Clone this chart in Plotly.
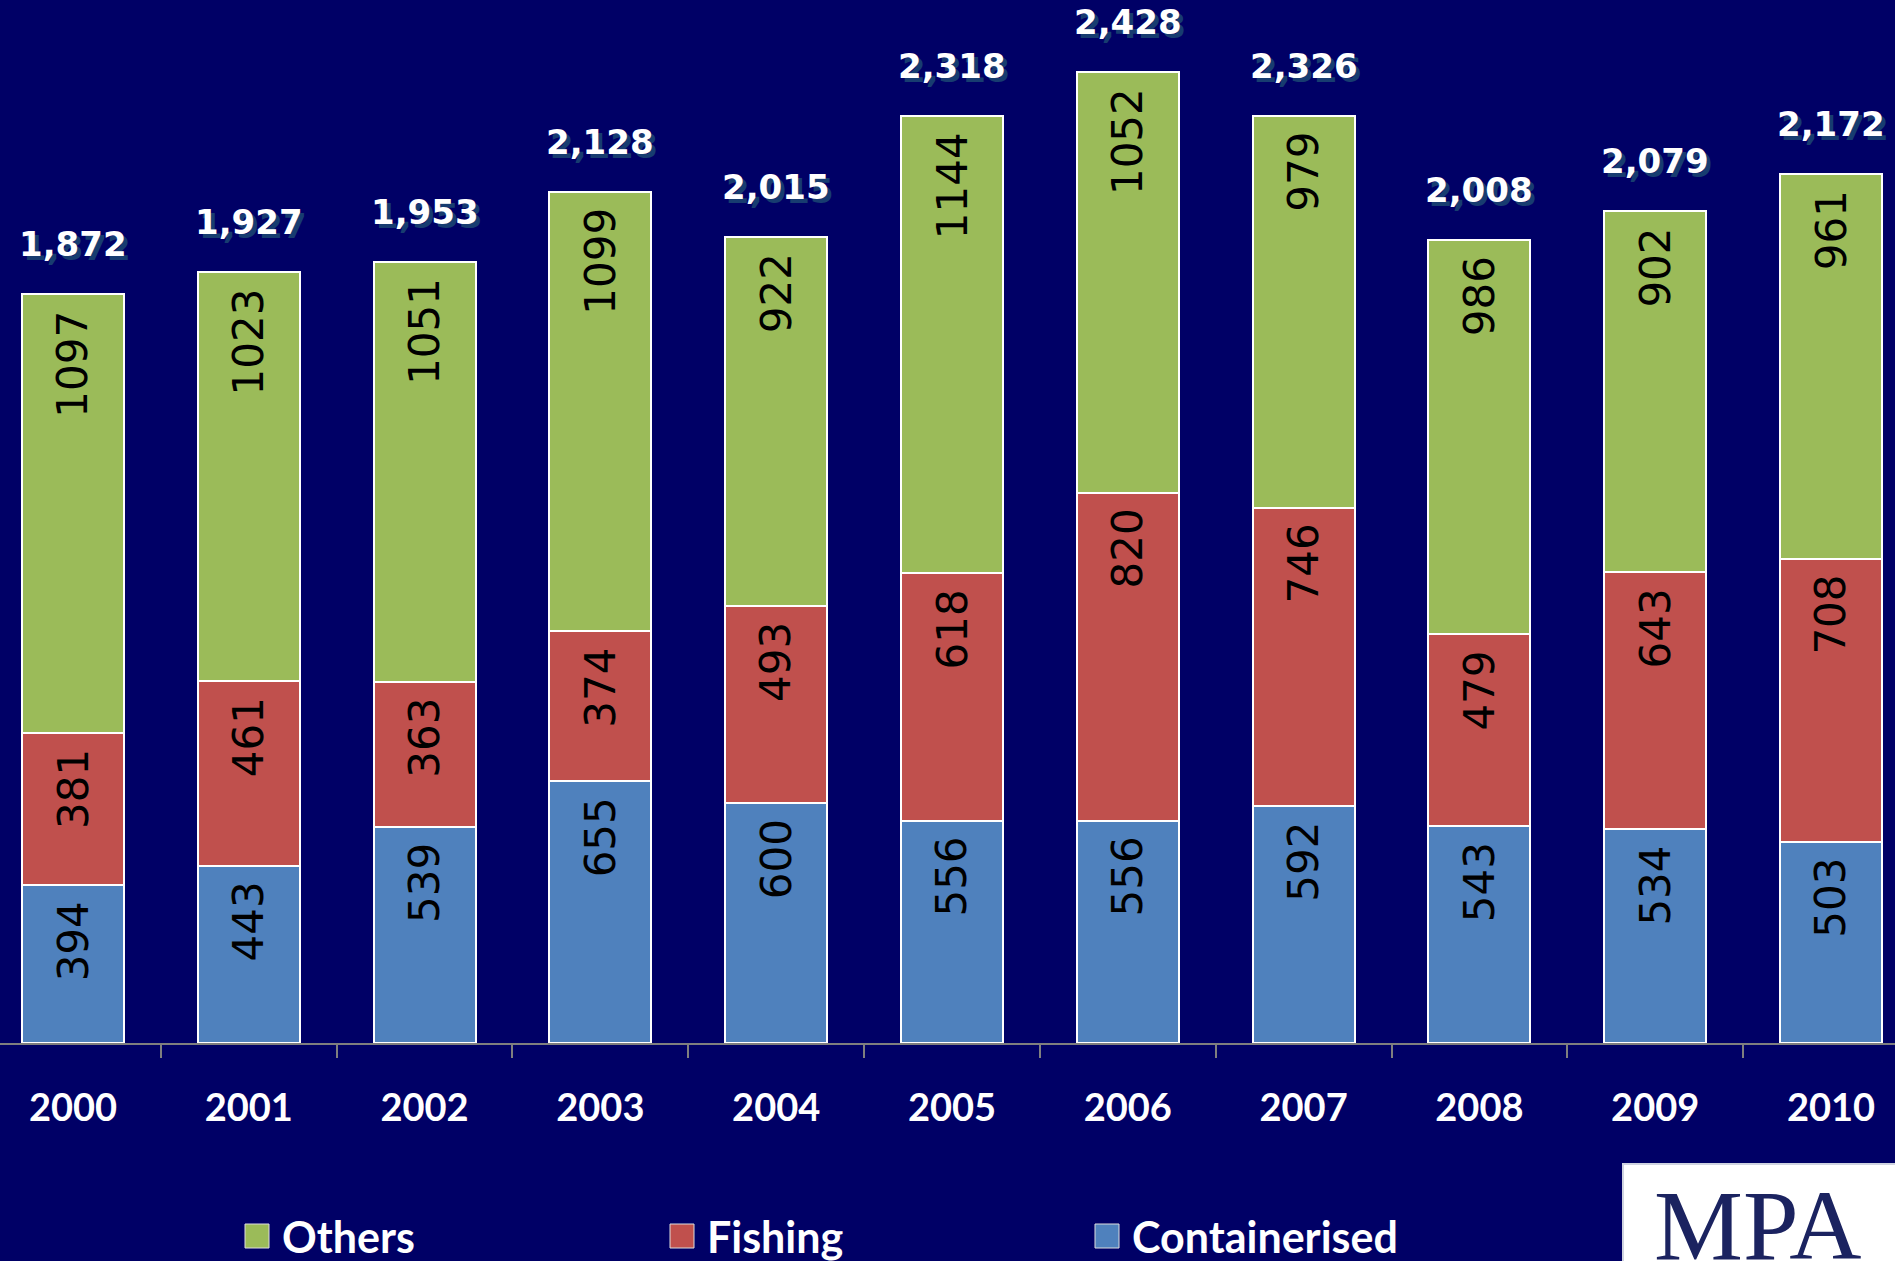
import plotly.graph_objects as go

# ---------------- data ----------------
years = ['2000', '2001', '2002', '2003', '2004', '2005', '2006', '2007', '2008', '2009', '2010']
containerised = [394, 443, 539, 655, 600, 556, 556, 592, 543, 534, 503]
fishing = [381, 461, 363, 374, 493, 618, 820, 746, 479, 643, 708]
others = [1097, 1023, 1051, 1099, 922, 1144, 1052, 979, 986, 902, 961]
totals = [1872, 1927, 1953, 2128, 2015, 2318, 2428, 2326, 2008, 2079, 2172]
legend_order = ['Others', 'Fishing', 'Containerised']

# ---------------- style ----------------
W, H = 1895, 1261
PLOT_BOTTOM = 1043          # pixel row of the category axis
BG = '#000066'
colors = {'Containerised': '#4F81BD', 'Fishing': '#C0504D', 'Others': '#9BBB59'}
series = [('Containerised', containerised), ('Fishing', fishing), ('Others', others)]


def px_x(px):
    return px / W


def px_y(py):
    return (PLOT_BOTTOM - py) / PLOT_BOTTOM


fig = go.Figure()
for name, vals in series:
    fig.add_bar(
        x=years, y=vals, name=name,
        marker=dict(color=colors[name], line=dict(color='white', width=2)),
        showlegend=False, hoverinfo='skip',
    )

annotations = []
# labels inside segments (rotated, near the top of each segment)
base = [0] * len(years)
for name, vals in series:
    for i, v in enumerate(vals):
        top = base[i] + v
        annotations.append(dict(
            x=i, y=top, xref='x', yref='y', text=str(v),
            textangle=-90, yanchor='top', xanchor='center', yshift=-14,
            showarrow=False, font=dict(family='DejaVu Sans', size=42, color='black'),
        ))
        base[i] = top

# total labels above bars (with shadow)
for i, t in enumerate(totals):
    txt = f'{t:,}'
    annotations.append(dict(
        x=i, y=base[i], xref='x', yref='y', text=txt,
        yanchor='bottom', xanchor='center', xshift=4, yshift=24,
        showarrow=False, font=dict(family='DejaVu Sans', size=34, color='#173c70', weight='bold'),
    ))
    annotations.append(dict(
        x=i, y=base[i], xref='x', yref='y', text=txt,
        yanchor='bottom', xanchor='center', yshift=28,
        showarrow=False, font=dict(family='DejaVu Sans', size=34, color='white', weight='bold'),
    ))

# manual legend
shapes = []
leg_y = 1236
for k, name in enumerate(legend_order):
    sx = 245 + k * 425
    shapes.append(dict(
        type='rect', xref='paper', yref='paper',
        x0=px_x(sx), x1=px_x(sx + 24), y0=px_y(leg_y + 12), y1=px_y(leg_y - 12),
        fillcolor=colors[name], line=dict(color='#dddddd', width=1),
    ))
    annotations.append(dict(
        x=px_x(sx + 35), y=px_y(leg_y), xref='paper', yref='paper', text=name,
        xanchor='left', yanchor='middle', showarrow=False,
        font=dict(family='Lato', size=43, color='white', weight='bold'),
    ))

# MPA logo box
shapes.append(dict(
    type='rect', xref='paper', yref='paper',
    x0=px_x(1623), x1=px_x(1900), y0=px_y(1270), y1=px_y(1164),
    fillcolor='white', line=dict(color='#cfd3e0', width=2),
))
annotations.append(dict(
    x=px_x(1652), y=px_y(1168), xref='paper', yref='paper', text='MPA',
    xanchor='left', yanchor='top', showarrow=False,
    font=dict(family='Liberation Serif', size=100, color='#1b2360'),
))

n = len(years)
fig.update_layout(
    width=W, height=H, autosize=False,
    margin=dict(l=0, r=0, t=0, b=H - PLOT_BOTTOM, pad=0),
    paper_bgcolor=BG, plot_bgcolor=BG,
    barmode='stack', bargap=0.42,
    showlegend=False,
    annotations=annotations, shapes=shapes,
    xaxis=dict(
        type='category', range=[-0.415, n - 1 + 0.364],
        showline=True, linecolor='#7f7f7f', linewidth=2,
        ticks='outside', tickson='boundaries', ticklen=13, tickcolor='#7f7f7f', tickwidth=1.5,
        tickfont=dict(family='Lato', size=38, color='white', weight='bold'),
        ticklabelstandoff=30, showgrid=False, zeroline=False, fixedrange=True,
    ),
    yaxis=dict(range=[0, PLOT_BOTTOM / 0.4], visible=False, showgrid=False, zeroline=False, fixedrange=True),
)

fig.write_html('out.html')
